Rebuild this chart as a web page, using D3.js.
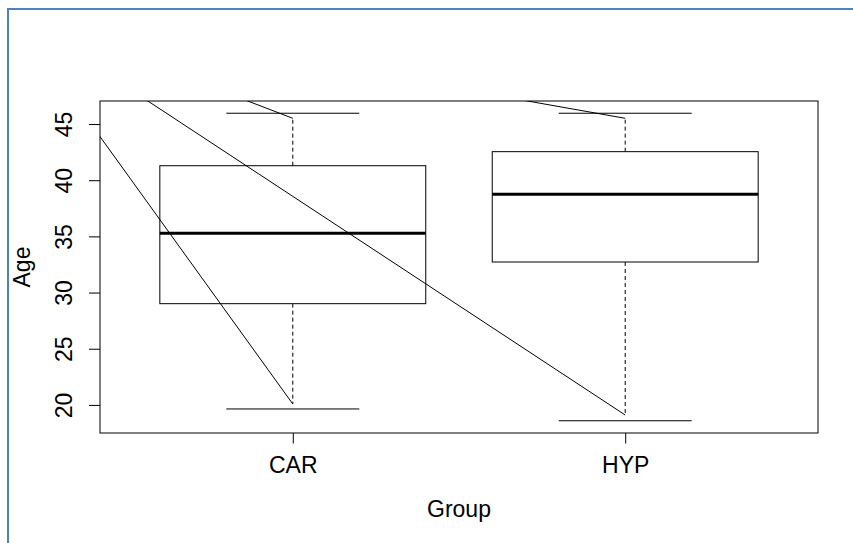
<!DOCTYPE html>
<html>
<head>
<meta charset="utf-8">
<script src="https://cdn.jsdelivr.net/npm/d3@7"></script>
<style>
  html, body { margin: 0; padding: 0; background: #fff; }
  svg { display: block; }
  text { font-family: "Liberation Sans", Arial, Helvetica, sans-serif; fill: #000; }
</style>
</head>
<body>
<svg id="chart" width="853" height="543"></svg>
<script>
// Age by group: box summaries
const categories = ["CAR", "HYP"];
const boxWidths = [0.8, 0.8];          // box width in category units
const lowerCap = [19.64, 18.59];
const lowerWhisker = [20.08, 19.10];
const q1 = [29.01, 32.72];
const median = [35.27, 38.75];
const q3 = [41.29, 42.54];
const upperWhisker = [45.51, 45.51];
const upperCap = [45.96, 45.96];
const yTicks = [20, 25, 30, 35, 40, 45];
const xLabel = "Group";
const yLabel = "Age";

const svg = d3.select("#chart");
const W = 853, H = 543;
const FONT = "23px";

// outer frame
const frame = { x: 8, y: 9 };
svg.append("rect")
  .attr("x", frame.x).attr("y", frame.y)
  .attr("width", W).attr("height", H)
  .attr("fill", "none")
  .attr("stroke", "#4f81bd")
  .attr("stroke-width", 2);

const g = svg.append("g").attr("transform", `translate(${frame.x},${frame.y})`);

const plot = { left: 92, right: 810, top: 92, bottom: 424 };

const x = d3.scaleLinear().domain([0.42, 2.58]).range([plot.left, plot.right]);
const y = d3.scaleLinear().domain([17.5, 47.05]).range([plot.bottom, plot.top]);

const boxes = categories.map((c, i) => ({
  name: c, pos: i + 1, w: boxWidths[i],
  lc: lowerCap[i], lw: lowerWhisker[i], q1: q1[i], med: median[i],
  q3: q3[i], uw: upperWhisker[i], uc: upperCap[i]
}));

g.append("clipPath").attr("id", "plot-clip")
  .append("rect")
  .attr("x", plot.left).attr("y", plot.top)
  .attr("width", plot.right - plot.left).attr("height", plot.bottom - plot.top);

const marks = g.append("g").attr("clip-path", "url(#plot-clip)");

const bg = marks.selectAll("g.box").data(boxes).join("g").attr("class", "box");

// whiskers (dashed)
bg.append("line")
  .attr("x1", d => x(d.pos)).attr("x2", d => x(d.pos))
  .attr("y1", d => y(d.q3)).attr("y2", d => y(d.uw))
  .attr("stroke", "#000").attr("stroke-dasharray", "4,3");
bg.append("line")
  .attr("x1", d => x(d.pos)).attr("x2", d => x(d.pos))
  .attr("y1", d => y(d.q1)).attr("y2", d => y(d.lw))
  .attr("stroke", "#000").attr("stroke-dasharray", "4,3");

// staples
bg.append("line")
  .attr("x1", d => x(d.pos - 0.2)).attr("x2", d => x(d.pos + 0.2))
  .attr("y1", d => y(d.uc)).attr("y2", d => y(d.uc))
  .attr("stroke", "#000");
bg.append("line")
  .attr("x1", d => x(d.pos - 0.2)).attr("x2", d => x(d.pos + 0.2))
  .attr("y1", d => y(d.lc)).attr("y2", d => y(d.lc))
  .attr("stroke", "#000");

// boxes
bg.append("rect")
  .attr("x", d => x(d.pos - d.w / 2))
  .attr("width", d => x(d.pos + d.w / 2) - x(d.pos - d.w / 2))
  .attr("y", d => y(d.q3))
  .attr("height", d => y(d.q1) - y(d.q3))
  .attr("fill", "none").attr("stroke", "#000");

// medians
bg.append("line")
  .attr("x1", d => x(d.pos - d.w / 2)).attr("x2", d => x(d.pos + d.w / 2))
  .attr("y1", d => y(d.med)).attr("y2", d => y(d.med))
  .attr("stroke", "#000").attr("stroke-width", 3);

// whisker ends joined to the group origin (x1/y1 left at 0)
const ends = boxes.flatMap(d => [{ pos: d.pos, v: d.lw }, { pos: d.pos, v: d.uw }]);
marks.selectAll("line.end").data(ends).join("line")
  .attr("class", "end")
  .attr("x2", d => x(d.pos)).attr("y2", d => y(d.v))
  .attr("stroke", "#000");

// plot frame
g.append("rect")
  .attr("x", plot.left).attr("y", plot.top)
  .attr("width", plot.right - plot.left).attr("height", plot.bottom - plot.top)
  .attr("fill", "none").attr("stroke", "#000");

// y axis
const yAxis = g.append("g")
  .attr("transform", `translate(${plot.left},0)`)
  .call(d3.axisLeft(y).tickValues(yTicks).tickSize(11).tickSizeOuter(0));
yAxis.select(".domain").remove();
yAxis.selectAll(".tick line").attr("stroke", "#000");
yAxis.selectAll(".tick text")
  .attr("x", null).attr("dy", null)
  .attr("text-anchor", "middle")
  .attr("transform", "translate(-28.3,0) rotate(-90)")
  .style("font-size", FONT)
  .style("font-family", "'Liberation Sans', Arial, sans-serif")
  .attr("fill", "#000");

// x axis
const xAxis = g.append("g")
  .attr("transform", `translate(0,${plot.bottom})`)
  .call(d3.axisBottom(x).tickValues(boxes.map(d => d.pos))
    .tickFormat((d, i) => categories[i]).tickSize(10.5).tickSizeOuter(0));
xAxis.select(".domain").remove();
xAxis.selectAll(".tick line").attr("stroke", "#000");
xAxis.selectAll(".tick text")
  .attr("y", 40).attr("dy", null)
  .style("font-size", FONT)
  .style("font-family", "'Liberation Sans', Arial, sans-serif")
  .attr("fill", "#000");

// axis titles
g.append("text")
  .attr("x", (plot.left + plot.right) / 2).attr("y", 508)
  .attr("text-anchor", "middle")
  .style("font-size", FONT)
  .text(xLabel);
g.append("text")
  .attr("transform", `translate(22,${(plot.top + plot.bottom) / 2}) rotate(-90)`)
  .attr("text-anchor", "middle")
  .style("font-size", FONT)
  .text(yLabel);
</script>
</body>
</html>
